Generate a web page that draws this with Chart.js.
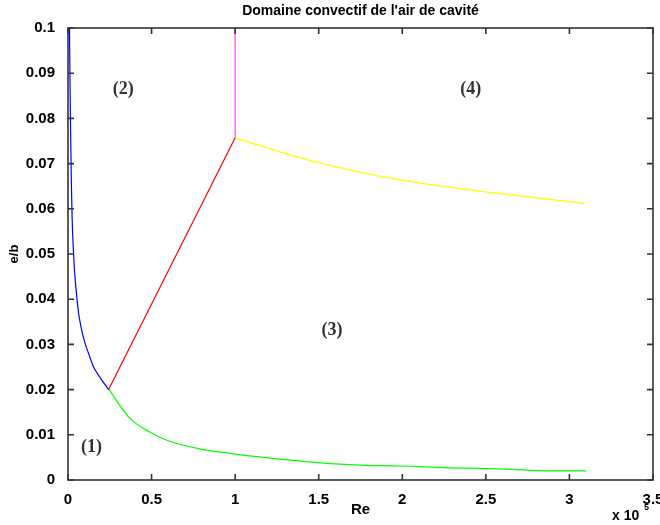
<!DOCTYPE html>
<html>
<head>
<meta charset="utf-8">
<script src="https://cdn.jsdelivr.net/npm/chart.js@4.4.0/dist/chart.umd.min.js"></script>
<style>
  html, body { margin: 0; padding: 0; background: #fff; }
  #wrap { width: 660px; height: 525px; }
</style>
</head>
<body>
<div id="wrap"><canvas id="domaine"></canvas></div>
<script>
// Re en unités de 10^5, e/b sans dimension
const blueRe = [0.009, 0.012, 0.015, 0.02, 0.025, 0.032, 0.040, 0.050, 0.063, 0.080, 0.100, 0.125, 0.153, 0.195, 0.243];
const blueEb = [0.1, 0.088, 0.079, 0.066, 0.0575, 0.051, 0.0458, 0.0415, 0.037, 0.0335, 0.0305, 0.0278, 0.025, 0.0225, 0.020];

const redRe = [0.243, 1.0];
const redEb = [0.020, 0.0757];

const magentaRe = [1.0, 1.0];
const magentaEb = [0.0757, 0.1];

const yellowRe = [1.0, 1.37, 1.77, 2.11, 2.51, 3.09];
const yellowEb = [0.0757, 0.0715, 0.0679, 0.0657, 0.0637, 0.0612];

const greenRe = [0.243, 0.369, 0.489, 0.591, 0.788, 0.986, 1.148, 1.51, 1.75, 1.99, 2.29, 2.61, 2.90, 3.10];
const greenEb = [0.0201, 0.0137, 0.0106, 0.0088, 0.0069, 0.0058, 0.0051, 0.0038, 0.0033, 0.0031, 0.0027, 0.0024, 0.0020, 0.0020];

const xTicks = [0, 0.5, 1, 1.5, 2, 2.5, 3, 3.5];
const yTicks = [0, 0.01, 0.02, 0.03, 0.04, 0.05, 0.06, 0.07, 0.08, 0.09, 0.1];

const zoneLabels = ['(1)', '(2)', '(3)', '(4)'];
const zoneRe = [0.14, 0.33, 1.58, 2.41];
const zoneEb = [0.0073, 0.0865, 0.033, 0.0865];

function pts(xs, ys) {
    return xs.map((x, i) => ({ x: x, y: ys[i] }));
}

function serie(xs, ys, color) {
    return {
        data: pts(xs, ys),
        showLine: true,
        borderColor: color,
        borderWidth: 1.2,
        pointRadius: 0,
        fill: false,
        cubicInterpolationMode: 'monotone'
    };
}

// cadre, graduations vers l'intérieur et textes façon MATLAB
const decor = {
    id: 'decor',
    afterDatasetsDraw(chart) {
        const ctx = chart.ctx;
        const a = chart.chartArea;
        const sx = chart.scales.x, sy = chart.scales.y;
        ctx.save();
        ctx.strokeStyle = '#333';
        ctx.lineWidth = 1.6;
        ctx.strokeRect(a.left, a.top, a.right - a.left, a.bottom - a.top);
        ctx.beginPath();
        xTicks.forEach(v => {
            const p = sx.getPixelForValue(v);
            ctx.moveTo(p, a.bottom);
            ctx.lineTo(p, a.bottom - 6);
            ctx.moveTo(p, a.top);
            ctx.lineTo(p, a.top + 6);
        });
        yTicks.forEach(v => {
            const p = sy.getPixelForValue(v);
            ctx.moveTo(a.left, p);
            ctx.lineTo(a.left + 6, p);
            ctx.moveTo(a.right, p);
            ctx.lineTo(a.right - 6, p);
        });
        ctx.stroke();

        ctx.fillStyle = '#000';
        ctx.font = 'bold 14px "Liberation Sans", Arial, sans-serif';
        ctx.textAlign = 'center';
        ctx.textBaseline = 'middle';
        ctx.fillText("Domaine convectif de l'air de cavité", (a.left + a.right) / 2, 11);
        ctx.font = 'bold 15px "Liberation Sans", Arial, sans-serif';
        ctx.fillText('Re', (a.left + a.right) / 2, 510);
        ctx.textAlign = 'left';
        ctx.font = 'bold 14px "Liberation Sans", Arial, sans-serif';
        ctx.fillText('x 10', 612, 516);
        ctx.font = 'bold 9px "Liberation Sans", Arial, sans-serif';
        ctx.fillText('5', 644, 508);
        ctx.save();
        ctx.translate(14, (a.top + a.bottom) / 2);
        ctx.rotate(-Math.PI / 2);
        ctx.textAlign = 'center';
        ctx.font = 'bold 13px "Liberation Sans", Arial, sans-serif';
        ctx.fillText('e/b', 0, 0);
        ctx.restore();

        ctx.fillStyle = '#333';
        ctx.font = 'bold 18px "Liberation Serif", "Times New Roman", serif';
        ctx.textAlign = 'center';
        zoneLabels.forEach((t, i) => {
            ctx.fillText(t, sx.getPixelForValue(zoneRe[i]), sy.getPixelForValue(zoneEb[i]));
        });
        ctx.restore();
    }
};

const tickFont = { family: '"Liberation Sans", Arial, sans-serif', size: 15, weight: 'bold' };

new Chart(document.getElementById('domaine'), {
    type: 'scatter',
    data: {
        datasets: [
            serie(blueRe, blueEb, '#0000ff'),
            serie(redRe, redEb, '#ff0000'),
            serie(magentaRe, magentaEb, '#ff44ff'),
            serie(yellowRe, yellowEb, '#ffff00'),
            serie(greenRe, greenEb, '#00ff00')
        ]
    },
    options: {
        responsive: true,
        maintainAspectRatio: false,
        animation: false,
        layout: { padding: { top: 28, right: 7, left: 0, bottom: 0 } },
        plugins: {
            legend: { display: false },
            tooltip: { enabled: false }
        },
        scales: {
            x: {
                type: 'linear',
                min: 0, max: 3.5,
                afterBuildTicks: s => { s.ticks = xTicks.map(v => ({ value: v })); },
                afterFit: s => { s.height = 45; s.paddingRight = 0; s.paddingLeft = 0; },
                grid: { display: false },
                border: { display: false },
                ticks: {
                    color: '#000', font: tickFont, padding: 3, maxRotation: 0,
                    callback: v => String(v)
                }
            },
            y: {
                type: 'linear',
                min: 0, max: 0.1,
                afterBuildTicks: s => { s.ticks = yTicks.map(v => ({ value: v })); },
                afterFit: s => { s.width = 68; s.paddingTop = 0; s.paddingBottom = 0; },
                grid: { display: false },
                border: { display: false },
                ticks: {
                    color: '#000', font: tickFont, padding: 5,
                    callback: v => String(Number(v.toFixed(2)))
                }
            }
        }
    },
    plugins: [decor]
});
</script>
</body>
</html>
